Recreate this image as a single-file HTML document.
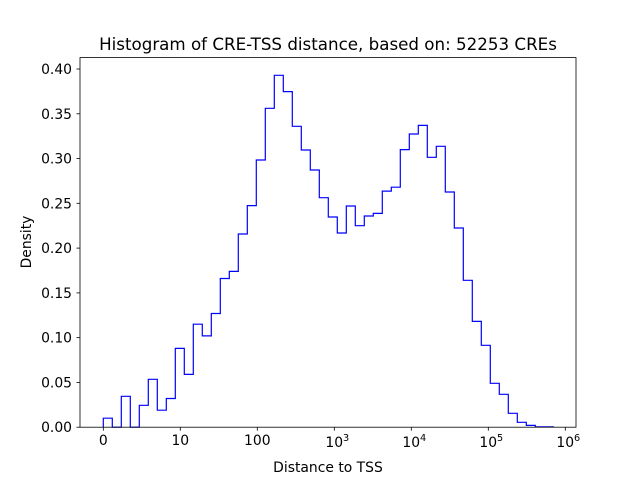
<!DOCTYPE html>
<html><head><meta charset="utf-8"><style>
body{margin:0;background:#fff}
svg{display:block;font-family:"DejaVu Sans","Liberation Sans",sans-serif}
</style></head><body>
<svg width="640" height="480" viewBox="0 0 640 480" xmlns="http://www.w3.org/2000/svg">
<rect width="640" height="480" fill="#fff"/>
<path fill="none" stroke="#0000ff" stroke-width="1.2" d="M103.3,427.2 V418.2 H112.3 V427.2 H121.3 V396.3 H130.3 V427.2 H139.3 V405.3 H148.3 V379.3 H157.3 V410.2 H166.3 V398.5 H175.3 V348.4 H184.3 V374.4 H193.3 V324.2 H202.3 V335.9 H211.3 V313.5 H220.3 V278.5 H229.3 V271.4 H238.3 V234 H247.3 V205.6 H256.3 V160 H265.3 V108.3 H274.3 V75.3 H283.3 V91.6 H292.3 V126.3 H301.3 V150 H310.3 V170 H319.3 V197.7 H328.3 V217 H337.3 V233 H346.3 V206 H355.3 V225.7 H364.3 V216 H373.3 V213.4 H382.3 V191.1 H391.3 V187.2 H400.3 V149.6 H409.3 V134 H418.3 V125.4 H427.3 V157.3 H436.3 V146.3 H445.3 V192 H454.3 V228 H463.3 V280.3 H472.3 V321.4 H481.3 V345.3 H490.3 V383.3 H499.3 V394.3 H508.3 V413.3 H517.3 V422.3 H526.3 V425.4 H535.3 V426.8 H544.3 V426.9 H553.3 V427.2"/>
<rect x="80" y="57.6" width="496" height="369.6" fill="none" stroke="#000" stroke-width="0.8"/>
<g stroke="#000" stroke-width="0.8">
<line x1="76.5" x2="80" y1="427.2" y2="427.2"/>
<line x1="76.5" x2="80" y1="382.4" y2="382.4"/>
<line x1="76.5" x2="80" y1="337.65" y2="337.65"/>
<line x1="76.5" x2="80" y1="292.9" y2="292.9"/>
<line x1="76.5" x2="80" y1="248.1" y2="248.1"/>
<line x1="76.5" x2="80" y1="203.3" y2="203.3"/>
<line x1="76.5" x2="80" y1="158.55" y2="158.55"/>
<line x1="76.5" x2="80" y1="113.8" y2="113.8"/>
<line x1="76.5" x2="80" y1="69" y2="69"/>
<line x1="103.3" x2="103.3" y1="427.2" y2="430.7"/>
<line x1="180.3" x2="180.3" y1="427.2" y2="430.7"/>
<line x1="257.3" x2="257.3" y1="427.2" y2="430.7"/>
<line x1="334.3" x2="334.3" y1="427.2" y2="430.7"/>
<line x1="411.3" x2="411.3" y1="427.2" y2="430.7"/>
<line x1="488.3" x2="488.3" y1="427.2" y2="430.7"/>
<line x1="565.3" x2="565.3" y1="427.2" y2="430.7"/>
</g>
<g font-size="13.9" fill="#000" text-anchor="end">
<text x="72" y="432.2">0.00</text>
<text x="72" y="387.4">0.05</text>
<text x="72" y="342.65">0.10</text>
<text x="72" y="297.9">0.15</text>
<text x="72" y="253.1">0.20</text>
<text x="72" y="208.3">0.25</text>
<text x="72" y="163.55">0.30</text>
<text x="72" y="118.8">0.35</text>
<text x="72" y="74">0.40</text>
</g>
<g font-size="13.9" fill="#000" text-anchor="middle">
<text x="103.3" y="445">0</text>
<text x="180.3" y="445">10</text>
<text x="257.3" y="445">100</text>
<text x="337.3" y="447">10<tspan dy="-6" font-size="9.7">3</tspan></text>
<text x="414.3" y="447">10<tspan dy="-6" font-size="9.7">4</tspan></text>
<text x="491.3" y="447">10<tspan dy="-6" font-size="9.7">5</tspan></text>
<text x="568.3" y="447">10<tspan dy="-6" font-size="9.7">6</tspan></text>
</g>
<text x="328" y="50" font-size="16.7" text-anchor="middle">Histogram of CRE-TSS distance, based on: 52253 CREs</text>
<text x="328" y="472" font-size="13.9" text-anchor="middle">Distance to TSS</text>
<text transform="translate(31,242) rotate(-90)" font-size="13.9" text-anchor="middle">Density</text>
</svg>
</body></html>
